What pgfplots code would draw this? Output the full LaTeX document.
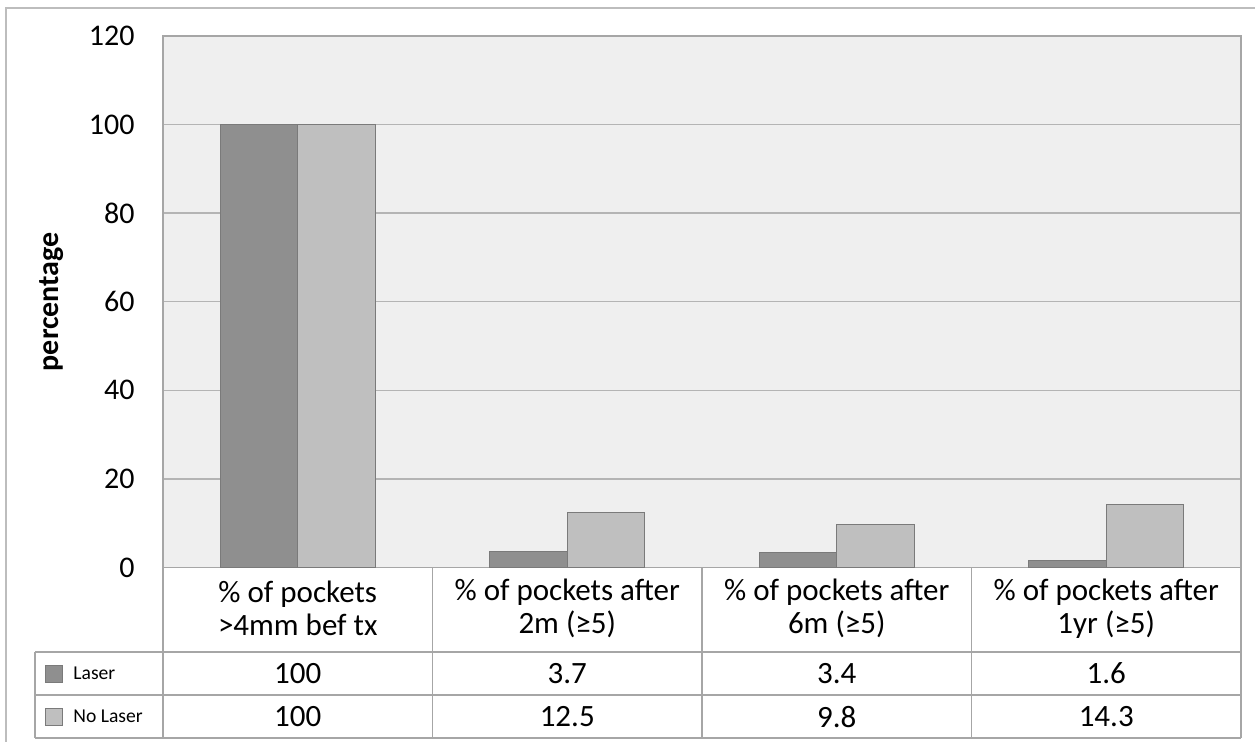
\documentclass[border=0pt]{standalone}
\usepackage{pgfplots}
\pgfplotsset{compat=1.18}
\usepackage{pgfplotstable}
\usepackage{fontspec}
\setmainfont{Carlito}

\definecolor{plotbg}{HTML}{EFEFEF}
\definecolor{laser}{HTML}{8F8F8F}
\definecolor{nolaser}{HTML}{BFBFBF}
\definecolor{baredge}{HTML}{7A7A7A}
\definecolor{gridc}{HTML}{B4B4B4}
\definecolor{framec}{HTML}{A6A6A6}
\definecolor{outerc}{HTML}{BDBDBD}

\newcommand{\bigfont}{\fontsize{15pt}{15.9pt}\selectfont}
\newcommand{\catfont}{\fontsize{15.5pt}{16.6pt}\selectfont}
\newcommand{\keyfont}{\fontsize{9.8pt}{11pt}\selectfont}

% share of pockets per visit, laser vs. no laser
\pgfplotstableread{
idx laser nolaser
0   100   100
1   3.7   12.5
2   3.4   9.8
3   1.6   14.3
}\pockets

\begin{document}
\begin{tikzpicture}
\useasboundingbox (0pt,0pt) rectangle (627.5pt,-371pt);
% chart frame
\draw[outerc, line width=0.9pt] (3pt,-371pt) -- (3pt,-4pt) -- (627.5pt,-4pt);

\begin{axis}[
  at={(81.5pt,-283.75pt)}, anchor=south west,
  scale only axis, width=539pt, height=265.75pt,
  ybar=0pt, bar width=38.65pt,
  xmin=-0.5, xmax=3.5, ymin=0, ymax=120,
  ytick={0,20,...,120},
  xtick={0,1,2,3},
  xticklabels={{\% of pockets\\>4mm bef tx},
               {\% of pockets after\\2m (≥5)},
               {\% of pockets after\\6m (≥5)},
               {\% of pockets after\\1yr (≥5)}},
  xticklabel style={align=center, anchor=center, yshift=-20.5pt, font=\catfont},
  yticklabel style={anchor=east, inner sep=0pt, xshift=-14pt, font=\bigfont},
  /pgf/number format/assume math mode=true,
  major tick length=0pt,
  axis background/.style={fill=plotbg},
  axis line style={framec, line width=0.7pt},
  ymajorgrids, grid style={gridc, line width=0.7pt},
  ylabel={\textbf{percentage}},
  ylabel style={at={(axis description cs:-0.103,0.5)}, anchor=center, font=\bigfont},
  clip=false,
]
\addplot[fill=laser, draw=baredge, line width=0.5pt] table[x=idx, y=laser] {\pockets};
\addplot[fill=nolaser, draw=baredge, line width=0.5pt] table[x=idx, y=nolaser] {\pockets};

% data table values
\node[font=\catfont] at (axis cs:0,-23.95) {100};
\node[font=\catfont] at (axis cs:1,-23.95) {3.7};
\node[font=\catfont] at (axis cs:2,-23.95) {3.4};
\node[font=\catfont] at (axis cs:3,-23.95) {1.6};
\node[font=\catfont] at (axis cs:0,-33.67) {100};
\node[font=\catfont] at (axis cs:1,-33.67) {12.5};
\node[font=\catfont] at (axis cs:2,-33.67) {9.8};
\node[font=\catfont] at (axis cs:3,-33.67) {14.3};
\end{axis}

% data table grid
\begin{scope}[framec, line width=0.7pt]
  \foreach \x in {81.5,216.25,351,485.75,620.5}
    \draw (\x pt,-283.75pt) -- (\x pt,-369pt);
  \foreach \y in {-326,-347.5,-369}
    \draw (17.5pt,\y pt) -- (620.5pt,\y pt);
  \draw (17.5pt,-326pt) -- (17.5pt,-369pt);
\end{scope}

% series keys
\draw[fill=laser, draw=baredge, line width=0.4pt] (22.5pt,-332.5pt) rectangle (31pt,-341pt);
\node[anchor=west, inner sep=0pt, font=\keyfont] at (36.5pt,-336.75pt) {Laser};
\draw[fill=nolaser, draw=baredge, line width=0.4pt] (22.5pt,-354pt) rectangle (31pt,-362.5pt);
\node[anchor=west, inner sep=0pt, font=\keyfont] at (36.5pt,-358.25pt) {No Laser};
\end{tikzpicture}
\end{document}
